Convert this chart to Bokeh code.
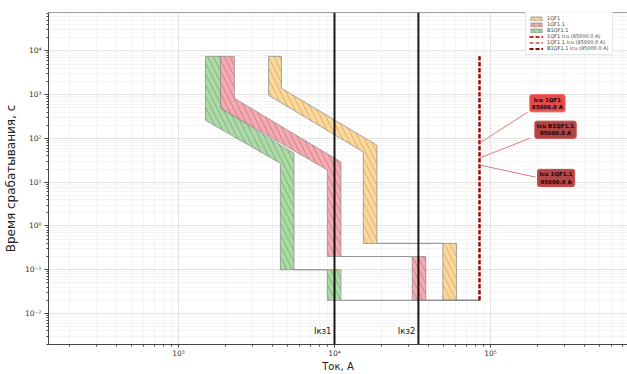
from bokeh.plotting import figure
from bokeh.models import Range1d, FixedTicker, Span, Label, Legend, LegendItem
from bokeh.embed import file_html
from bokeh.resources import INLINE
from bokeh.core.properties import value

FONT = "DejaVu Sans"

# ---------------- data ----------------
# time-current bands: min curve (left boundary) and max curve (right boundary, reversed)
qf1_min_i = [3780, 3780, 15300, 15300, 49500, 49500, 85000]
qf1_min_t = [7500, 970, 49, 0.4, 0.4, 0.02, 0.02]
qf1_max_i = [85000, 60500, 60500, 18700, 18700, 4570, 4570]
qf1_max_t = [0.02, 0.02, 0.4, 0.4, 70, 1400, 7500]

qf11_min_i = [1860, 1860, 9000, 9000, 31500, 31500, 85000]
qf11_min_t = [7500, 490, 19, 0.2, 0.2, 0.02, 0.02]
qf11_max_i = [85000, 38500, 38500, 11000, 11000, 2280, 2280]
qf11_max_t = [0.02, 0.02, 0.2, 0.2, 29, 830, 7500]

b1qf11_min_i = [1490, 1490, 4500, 4500, 9000, 9000, 85000]
b1qf11_min_t = [7500, 260, 27, 0.1, 0.1, 0.02, 0.02]
b1qf11_max_i = [85000, 11000, 11000, 5500, 5500, 1860, 1860]
b1qf11_max_t = [0.02, 0.02, 0.1, 0.1, 46, 490, 7500]

breaker_names = ["1QF1", "1QF1.1", "B1QF1.1"]
icu_values = [85000.0, 85000.0, 85000.0]
icu_t = [0.02, 7500]

ikz_values = [10000, 34500]
ikz_labels = ["Iкз1", "Iкз2"]

x_major = [1e3, 1e4, 1e5]
x_major_labels = ["10³", "10⁴", "10⁵"]
y_major = [0.01, 0.1, 1, 10, 100, 1000, 10000]
y_major_labels = ["10⁻²", "10⁻¹", "10⁰", "10¹", "10²", "10³", "10⁴"]

# ---------------- layout / style ----------------
x_minor = [m * 10.0 ** e for e in range(2, 6) for m in range(2, 10)]
y_minor = [m * 10.0 ** e for e in range(-3, 5) for m in range(2, 10)]

p = figure(width=627, height=374, x_axis_type="log", y_axis_type="log",
           x_range=Range1d(146.9, 755000), y_range=Range1d(0.00196, 75300),
           output_backend="svg", toolbar_location=None,
           min_border_left=48, min_border_right=0, min_border_top=12, min_border_bottom=29)
p.outline_line_color = None
p.background_fill_color = "white"

for ax in (p.xaxis, p.yaxis):
    ax.axis_line_color = "#444444"
    ax.major_tick_line_color = "#444444"
    ax.minor_tick_line_color = "#444444"
    ax.major_tick_in = 0
    ax.minor_tick_in = 0
    ax.major_label_text_font = FONT
    ax.major_label_text_color = "#333333"
    ax.axis_label_text_font = FONT
    ax.axis_label_text_font_style = "normal"
    ax.axis_label_text_color = "#222222"

xt = FixedTicker(ticks=x_major, minor_ticks=x_minor)
yt = FixedTicker(ticks=y_major, minor_ticks=y_minor)
p.xaxis.ticker = xt
p.yaxis.ticker = yt
p.xgrid.ticker = xt
p.ygrid.ticker = yt
p.xaxis.major_label_overrides = dict(zip(x_major, x_major_labels))
p.yaxis.major_label_overrides = dict(zip(y_major, y_major_labels))

p.xaxis.major_tick_out = 3
p.xaxis.minor_tick_out = 2
p.xaxis.major_label_standoff = 1
p.xaxis.major_label_text_font_size = "7.5px"
p.xaxis.axis_label = "Ток, А"
p.xaxis.axis_label_text_font_size = "10px"
p.xaxis.axis_label_standoff = 0

p.yaxis.major_tick_out = 4
p.yaxis.minor_tick_out = 2
p.yaxis.major_label_standoff = 3
p.yaxis.major_label_text_font_size = "7.5px"
p.yaxis.axis_label = "Время срабатывания, с"
p.yaxis.axis_label_text_font_size = "12px"
p.yaxis.axis_label_standoff = 4

for g in (p.xgrid, p.ygrid):
    g.grid_line_color = "#dcdcdc"
    g.grid_line_width = 0.8
    g.minor_grid_line_color = "#efefef"
    g.minor_grid_line_width = 0.7

p.add_layout(Span(location=75300, dimension="width", line_color="#444444", line_width=1.2))

bands = [
    (qf1_min_i + qf1_max_i, qf1_min_t + qf1_max_t, "#fbd594", "#b8862a"),
    (qf11_min_i + qf11_max_i, qf11_min_t + qf11_max_t, "#f3a3aa", "#b4505a"),
    (b1qf11_min_i + b1qf11_max_i, b1qf11_min_t + b1qf11_max_t, "#a4d69e", "#4d8a48"),
]
band_renderers = []
for xs, ys, fc, hc in bands:
    r = p.patch(xs, ys, fill_color=fc, fill_alpha=0.9,
                hatch_pattern="\\", hatch_color=hc, hatch_alpha=0.55,
                hatch_scale=11, hatch_weight=0.9,
                line_color="#8c8c8c", line_width=0.9, line_alpha=0.85)
    band_renderers.append(r)

icu_colors = ["#d62728", "#e07070", "#8b0a0a"]
icu_renderers = []
for val, col in zip(icu_values, icu_colors):
    r = p.line([val, val], icu_t, line_color=col, line_width=2, line_dash="4 2")
    icu_renderers.append(r)

for v in ikz_values:
    p.add_layout(Span(location=v, dimension="height", line_color="black",
                      line_width=2, line_alpha=0.9))
p.text(x=ikz_values, y=[0.0039, 0.0039], text=ikz_labels, text_align="right",
       text_baseline="middle", x_offset=-3, text_font=value(FONT),
       text_font_size="8.5px", text_color="#222222")

# annotation boxes and leader lines
ann_text = ["Icu 1QF1\n85000.0 A", "Icu B1QF1.1\n85000.0 A", "Icu 1QF1.1\n85000.0 A"]
ann_box_x = [231600, 261000, 263000]
ann_box_y = [637, 158, 12.5]
ann_anchor_t = [78, 35.6, 24.7]
ann_end_x = [172700, 180300, 194300]
ann_end_y = [397, 101.6, 13.1]
ann_fill = ["#e03c3c", "#a83434", "#ad3838"]
ann_border = ["#ff5a5a", "#d04848", "#d04848"]
for i in range(3):
    p.line([icu_values[0], ann_end_x[i]], [ann_anchor_t[i], ann_end_y[i]],
           line_color="#e07a7a", line_width=1)
for i in range(3):
    p.add_layout(Label(x=ann_box_x[i], y=ann_box_y[i], text=ann_text[i],
                       text_font=FONT, text_font_size="5.5px", text_font_style="bold",
                       text_color="#2a0000", text_align="center", text_baseline="middle",
                       background_fill_color=ann_fill[i], background_fill_alpha=0.92,
                       border_line_color=ann_border[i], border_line_width=1,
                       padding=2, border_radius=2))

legend_labels = breaker_names + [f"{n} Icu ({v} A)" for n, v in zip(breaker_names, icu_values)]
items = [LegendItem(label=l, renderers=[r])
         for l, r in zip(legend_labels, band_renderers + icu_renderers)]
legend = Legend(items=items, location=(477, 289), label_text_font=FONT,
                label_text_font_size="5px", label_height=4, glyph_height=5,
                glyph_width=14, spacing=0, padding=3, margin=0, label_standoff=4,
                border_line_color="#cccccc", background_fill_alpha=0.9)
p.add_layout(legend)

open("out.html", "w").write(file_html(p, INLINE))
